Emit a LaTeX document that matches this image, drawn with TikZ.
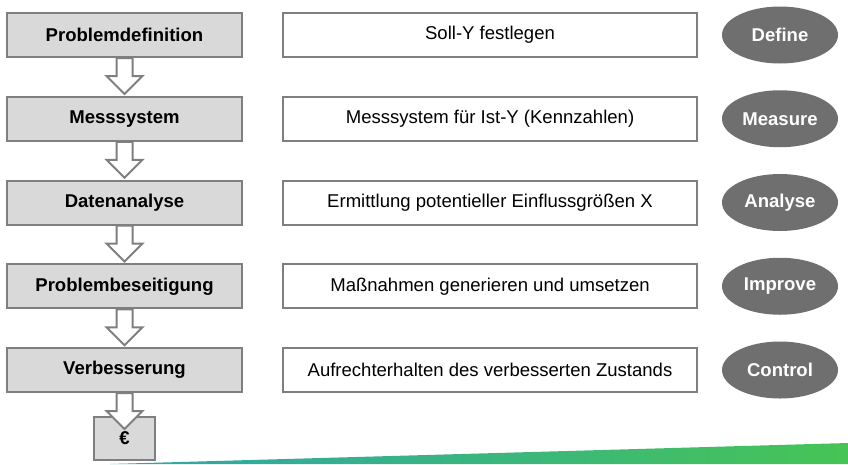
\documentclass[tikz,border=0pt]{standalone}
\usepackage{fontspec}
\setmainfont{Liberation Sans}
\usetikzlibrary{shapes.geometric}

\definecolor{boxgray}{HTML}{D9D9D9}
\definecolor{linegray}{HTML}{7F7F7F}
\definecolor{ovalgray}{HTML}{6F6F6F}
\definecolor{barteal}{HTML}{2EA6AA}
\definecolor{bargreen}{HTML}{46C455}

\newcommand{\hollowdown}[1]{%
  \draw[hollowarrow] (#1.south) ++(-8,0) -- ++(0,18) -- ++(-10,0) -- ++(18,18)
    -- ++(18,-18) -- ++(-10,0) -- ++(0,-18) -- cycle;}

\begin{document}
\begin{tikzpicture}[x=0.75pt,y=-0.75pt,
  phase/.style={draw=linegray,fill=boxgray,line width=1.5pt,minimum width=176.25pt,
    minimum height=33pt,inner sep=0pt,font=\fontsize{13.9}{16}\selectfont\bfseries},
  task/.style={draw=linegray,fill=white,line width=1.5pt,minimum width=310.5pt,
    minimum height=33pt,inner sep=0pt,font=\fontsize{13.9}{16}\selectfont},
  dmaic/.style={ellipse,fill=ovalgray,text=white,minimum width=87pt,minimum height=42.75pt,
    inner sep=0pt,font=\fontsize{13.9}{16}\selectfont\bfseries},
  hollowarrow/.style={draw=linegray,fill=white,line width=1.5pt,line join=miter}]

\useasboundingbox (0,0) rectangle (848,464);

% bottom bar
\shade[left color=barteal,right color=bargreen] (110,464) -- (848,443) -- (848,464) -- cycle;

\node[phase] (def) at (124.5,35) {Problemdefinition};
\node[phase] (mes) at (124.5,118.75) {Messsystem};
\node[phase] (ana) at (124.5,202.5) {Datenanalyse};
\node[phase] (imp) at (124.5,286.25) {Problembeseitigung};
\node[phase] (con) at (124.5,370) {Verbesserung};
\node[phase,minimum width=45.75pt,minimum height=32.25pt] (euro) at (124.5,438.5) {€};

\node[task] (tdef) at (490,35) {Soll-Y festlegen};
\node[task] (tmes) at (490,118.75) {Messsystem für Ist-Y (Kennzahlen)};
\node[task] (tana) at (490,202.5) {Ermittlung potentieller Einflussgrößen X};
\node[task] (timp) at (490,286.25) {Maßnahmen generieren und umsetzen};
\node[task] (tcon) at (490,370) {Aufrechterhalten des verbesserten Zustands};

\node[dmaic] (odef) at (780,35) {Define};
\node[dmaic] (omes) at (780,118.75) {Measure};
\node[dmaic] (oana) at (780,202.5) {Analyse};
\node[dmaic] (oimp) at (780,286.25) {Improve};
\node[dmaic] (ocon) at (780,370) {Control};

% arrows between the phases
\hollowdown{def}
\hollowdown{mes}
\hollowdown{ana}
\hollowdown{imp}
\hollowdown{con}
\end{tikzpicture}
\end{document}
